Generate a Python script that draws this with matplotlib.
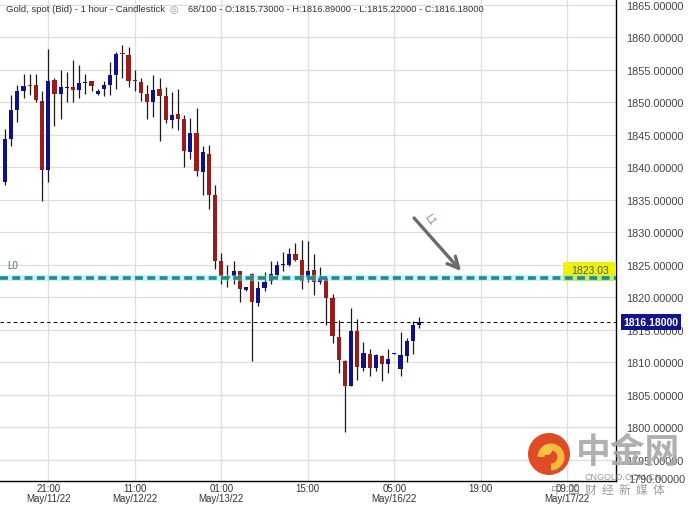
import matplotlib
matplotlib.use('Agg')
import matplotlib.pyplot as plt
from matplotlib.patches import Circle, Arc, Rectangle

plt.rcParams['font.family'] = ['Liberation Sans', 'DejaVu Sans']

# hourly candles, 14:00 May/11 .. 09:00 May/16 (weekend removed)
opens = [1837.8, 1844.4, 1848.8, 1851.7, 1852.6, 1852.6, 1850.2, 1839.6, 1853.4, 1851.3,
         1852.2, 1852.3, 1851.9, 1853.0, 1853.2, 1851.2, 1852.0, 1852.6, 1854.2, 1857.5,
         1857.3, 1853.3, 1853.1, 1851.3, 1850.1, 1852.0, 1850.9, 1847.3, 1848.2, 1847.4,
         1842.4, 1845.3, 1839.3, 1842.1, 1835.7, 1825.5, 1823.3, 1823.3, 1824.0, 1821.1,
         1823.5, 1819.1, 1821.4, 1822.5, 1823.4, 1824.95, 1824.95, 1826.6, 1825.7, 1823.1,
         1824.2, 1822.3, 1822.9, 1819.9, 1813.8, 1810.2, 1806.4, 1814.8, 1809.1, 1811.2,
         1809.1, 1811.0, 1809.7, 1811.3, 1808.9, 1811.0, 1813.3, 1815.73]
highs = [1845.9, 1851.1, 1852.7, 1854.4, 1854.3, 1854.3, 1851.8, 1858.2, 1853.7, 1855.0,
         1854.6, 1856.5, 1855.7, 1854.4, 1853.3, 1852.0, 1853.2, 1856.2, 1857.7, 1858.8,
         1858.5, 1854.9, 1853.7, 1852.7, 1854.2, 1853.8, 1852.4, 1851.5, 1852.1, 1848.0,
         1847.5, 1849.1, 1843.2, 1843.4, 1837.2, 1826.8, 1824.95, 1825.5, 1824.1, 1821.6,
         1823.7, 1822.5, 1823.8, 1825.5, 1825.6, 1827.0, 1827.5, 1828.4, 1828.8, 1828.7,
         1826.6, 1824.6, 1823.1, 1820.5, 1816.5, 1810.3, 1818.4, 1816.6, 1813.1, 1812.0,
         1811.3, 1811.1, 1812.1, 1811.4, 1814.6, 1813.7, 1816.4, 1816.89]
lows = [1837.3, 1843.3, 1846.9, 1850.6, 1851.1, 1850.1, 1834.8, 1837.8, 1846.4, 1847.4,
        1850.1, 1850.1, 1850.6, 1851.3, 1851.7, 1851.1, 1851.0, 1851.1, 1852.1, 1853.8,
        1852.3, 1851.7, 1850.2, 1847.4, 1847.7, 1844.1, 1846.8, 1846.0, 1845.8, 1840.0,
        1841.2, 1838.7, 1835.7, 1833.5, 1824.3, 1822.0, 1821.5, 1822.0, 1819.3, 1821.0,
        1810.2, 1818.7, 1821.0, 1822.0, 1823.1, 1824.1, 1824.85, 1825.5, 1821.2, 1822.3,
        1820.4, 1822.0, 1815.7, 1813.0, 1808.3, 1799.2, 1806.3, 1807.2, 1808.6, 1807.9,
        1808.7, 1807.1, 1808.3, 1811.3, 1807.8, 1810.0, 1811.3, 1815.22]
closes = [1844.3, 1848.8, 1851.7, 1852.5, 1852.5, 1850.3, 1839.6, 1853.2, 1851.2, 1852.3,
          1852.2, 1851.9, 1852.9, 1853.1, 1852.5, 1851.8, 1852.6, 1854.2, 1857.4, 1857.4,
          1853.2, 1853.2, 1851.4, 1850.1, 1851.9, 1851.0, 1847.3, 1848.0, 1847.4, 1842.5,
          1845.3, 1839.4, 1842.3, 1835.7, 1825.6, 1823.3, 1823.0, 1824.0, 1821.2, 1821.5,
          1819.3, 1821.4, 1822.4, 1823.6, 1824.95, 1825.0, 1826.6, 1825.7, 1822.5, 1824.1,
          1822.3, 1823.0, 1819.9, 1814.1, 1810.4, 1806.4, 1814.8, 1809.2, 1811.4, 1809.1,
          1811.1, 1809.7, 1810.5, 1811.35, 1811.1, 1813.3, 1815.7, 1816.18]

tick_pos = [7, 21, 35, 49, 63, 77, 91]
tick_labels = ['21:00\nMay/11/22', '11:00\nMay/12/22', '01:00\nMay/13/22', '15:00',
               '05:00\nMay/16/22', '19:00', '09:00\nMay/17/22']
y_ticks = [1795, 1800, 1805, 1810, 1815, 1820, 1825, 1830, 1835, 1840,
           1845, 1850, 1855, 1860, 1865]
level_l0 = 1823.03
last_price = 1816.18
arrow_start = (65.9, 1832.5)
arrow_end = (74.1, 1823.7)

UP = '#101088'
DOWN = '#991c1c'

fig = plt.figure(figsize=(6.89, 5.06), dpi=100)
ax = fig.add_axes([0, 24 / 506, 616 / 689, 482 / 506])
ax.set_xlim(-0.81, 98.87)
ax.set_ylim(1791.72, 1865.88)

# grid
ax.set_yticks(y_ticks)
ax.set_yticklabels(['%.5f' % v for v in y_ticks])
ax.set_xticks(tick_pos)
ax.set_xticklabels(tick_labels, linespacing=0.95)
ax.grid(True, color='#dedede', lw=0.9)
ax.set_axisbelow(True)
ax.yaxis.tick_right()
ax.tick_params(axis='y', length=0, pad=7, labelsize=7.8, labelcolor='#444444')
ax.tick_params(axis='x', length=0, pad=1.5, labelsize=7, labelcolor='#333333')
for s in ['top', 'left']:
    ax.spines[s].set_visible(False)
ax.spines['right'].set_color('black')
ax.spines['bottom'].set_color('black')
ax.spines['right'].set_linewidth(1.0)
ax.spines['bottom'].set_linewidth(1.0)

# candles
for i in range(len(opens)):
    o, h, l, c = opens[i], highs[i], lows[i], closes[i]
    col = UP if c >= o else DOWN
    ax.vlines(i, l, h, color='#1a1a1a', lw=0.9, zorder=2)
    body = max(abs(c - o), 0.18)
    ax.bar(i, body, bottom=min(o, c), width=0.68, color=col, zorder=3)

# yellow level label
ax.add_patch(Rectangle((90.3, 1822.55), 9, 2.85, facecolor='#eef20a', edgecolor='none', zorder=4))
ax.text(94.6, 1824.2, '%.2f' % level_l0, fontsize=7.5, color='#555555', ha='center', va='center', zorder=6)

# L0 dashed level
ax.axhline(level_l0, color='#8fe3e3', lw=4.5, alpha=0.45, zorder=4)
ax.axhline(level_l0, color='#1f8c8c', lw=2.6, linestyle=(0, (2.2, 1.2)), zorder=5)
ax.text(0.4, 1825.0, 'L0', fontsize=7, color='#4a6e9a', ha='left', va='center')

# last price dotted line
ax.axhline(last_price, color='black', lw=0.8, linestyle=(0, (3, 3)), zorder=4)
ax.annotate('%.5f' % last_price, xy=(1.012, last_price), xycoords=('axes fraction', 'data'),
            fontsize=7.5, color='white', fontweight='bold', ha='left', va='center',
            bbox=dict(boxstyle='square,pad=0.25', facecolor='#14148a', edgecolor='none'),
            annotation_clip=False)

# L1 arrow
ax.annotate('', xy=arrow_end, xytext=arrow_start,
            arrowprops=dict(arrowstyle='->,head_length=0.8,head_width=0.4', color='#6b6b6b', lw=2.4))
ax.text(68.8, 1832.1, 'L1', fontsize=7, color='#6a86b0', rotation=-55, ha='center', va='center')

# header
fig.text(0.009, 0.981, 'Gold, spot (Bid) - 1 hour - Candlestick', fontsize=6.8, color='#333333', va='center')
fig.text(0.246, 0.981, '\u25ce', fontsize=7, color='#9a9a9a', va='center')
fig.text(0.273, 0.981, '68/100 - O:1815.73000 - H:1816.89000 - L:1815.22000 - C:1816.18000',
         fontsize=6.65, color='#333333', va='center')

# partially hidden bottom label
fig.text(628 / 689, 1 - 480 / 506, '1790.00000', fontsize=7.8, color='#444444', va='center')

# watermark
wm = fig.add_axes([0, 0, 1, 1], facecolor='none')
wm.set_xlim(0, 689)
wm.set_ylim(506, 0)
wm.set_aspect('equal')
wm.axis('off')
wm.add_patch(Circle((549, 455), 21, facecolor='#dc421b', edgecolor='none', alpha=0.95))
wm.add_patch(Arc((551, 458), 20, 20, theta1=180, theta2=450, color='#f6b93b', lw=5))
wm.add_patch(Circle((547, 451), 5, facecolor='#f6c64a', edgecolor='none'))
wm.text(628, 453, '中金网', fontsize=25, fontweight='bold', color='#a8a8a8', alpha=0.9,
        ha='center', va='center', family=['Noto Sans CJK SC', 'DejaVu Sans'])
wm.text(623, 478, 'CNGOLD.COM.CN', fontsize=6.5, color='#9a9a9a', ha='center', va='center')
wm.text(608, 490, '中  国  财  经  新  媒  体', fontsize=8.5, color='#8a8a8a', alpha=0.85,
        ha='center', va='center', family=['Noto Sans CJK SC', 'DejaVu Sans'])

plt.savefig('out.png', dpi=100)
